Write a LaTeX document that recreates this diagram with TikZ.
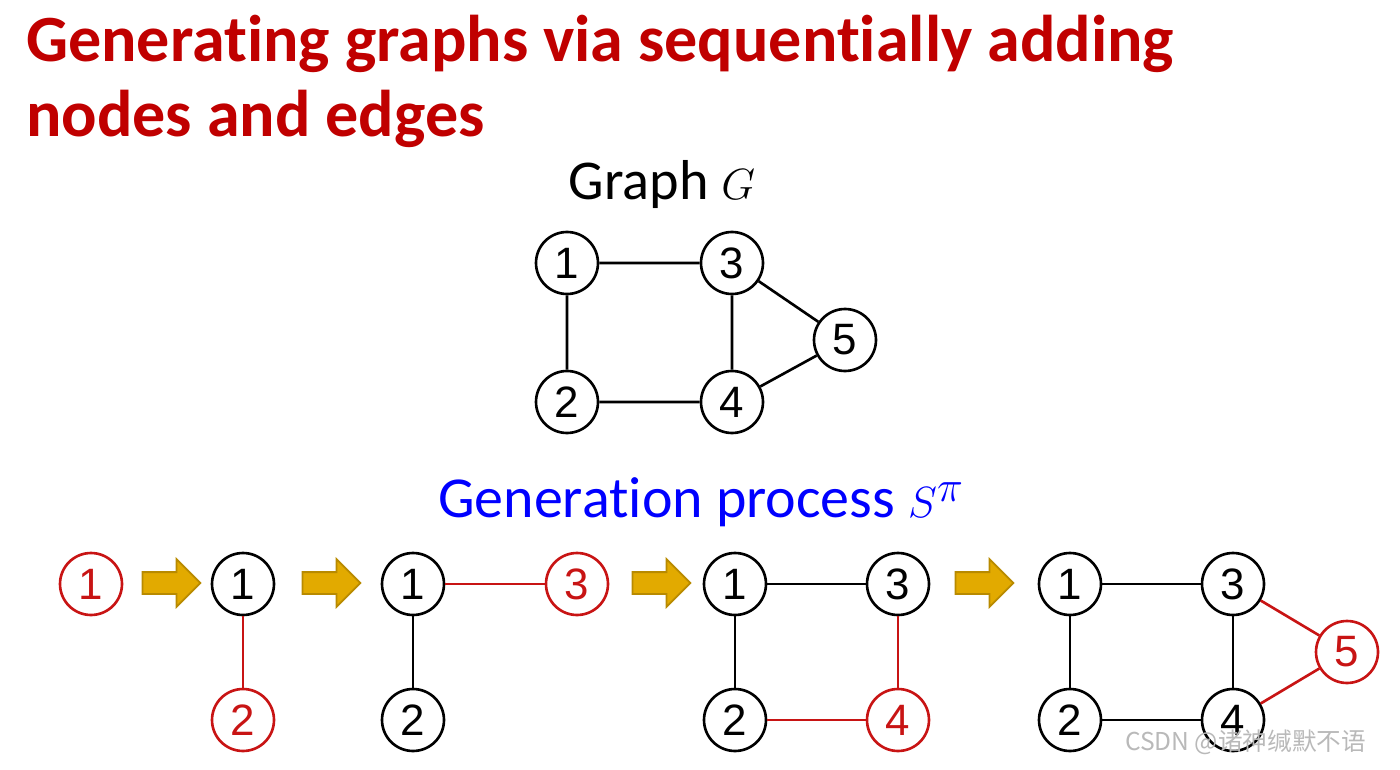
\documentclass[tikz,border=0pt]{standalone}
\usepackage{fontspec}
\setmainfont{Carlito}[Ligatures=NoCommon]
\newfontfamily\digitfont{Liberation Sans}
\newfontfamily\cjkfont{Noto Sans CJK SC}
\usetikzlibrary{shapes.arrows,positioning}
\definecolor{titlered}{RGB}{192,0,0}
\definecolor{stepred}{RGB}{200,20,20}
\definecolor{procblue}{RGB}{0,0,255}
\definecolor{arrowgold}{RGB}{226,170,0}
\definecolor{arrowedge}{RGB}{184,138,0}
\definecolor{markgray}{RGB}{185,185,185}

\begin{document}
\begin{tikzpicture}[x=0.02cm, y=-0.02cm,
    vtx/.style={circle, draw, line width=1.5pt, minimum size=1.24cm, inner sep=0pt,
                font=\digitfont\fontsize{25}{25}\selectfont},
    newvtx/.style={vtx, draw=stepred, text=stepred},
    edge/.style={line width=1.5pt},
    newedge/.style={edge, draw=stepred},
    goarrow/.style={single arrow, draw=arrowedge, fill=arrowgold, line width=1pt,
                    minimum height=1.16cm, inner sep=0pt, inner ysep=0.2cm,
                    single arrow head extend=0.26cm}
  ]
  \useasboundingbox (0,0) rectangle (1400,770);

  % title
  \node[anchor=base west, text=titlered, font=\fontsize{37.6}{37.6}\selectfont\bfseries]
        (title) at (20,62) {Generating graphs via sequentially adding};
  \node[anchor=base west, text=titlered, font=\fontsize{37.6}{37.6}\selectfont\bfseries]
        (title2) at (20,137) {nodes and edges};

  % graph G
  \node[anchor=base, font=\fontsize{32}{32}\selectfont] (glabel) at (662,200) {Graph $G$};
  \node[vtx] (g1) at (567,263) {1};
  \node[vtx] (g3) at (732,263) {3};
  \node[vtx] (g2) at (567,402) {2};
  \node[vtx] (g4) at (732,402) {4};
  \node[vtx] (g5) at (845,340) {5};
  \draw[edge] (g1) -- (g3) (g1) -- (g2) (g2) -- (g4) (g3) -- (g4)
              (g3) -- (g5) (g4) -- (g5);

  \node[anchor=base, text=procblue, font=\fontsize{33}{33}\selectfont] (proc) at (701,517)
        {Generation process $S^{\pi}$};

  % step 1
  \node[newvtx] (a1) at (91,584) {1};
  \node[goarrow] (ar1) at (166,583) {};

  % step 2
  \node[vtx] (b1) at (243,584) {1};
  \node[newvtx] (b2) at (243,720) {2};
  \draw[newedge] (b1) -- (b2);
  \node[goarrow] (ar2) at (326,583) {};

  % step 3
  \node[vtx] (c1) at (413,584) {1};
  \node[vtx] (c2) at (413,720) {2};
  \node[newvtx] (c3) at (577,584) {3};
  \draw[edge] (c1) -- (c2);
  \draw[newedge] (c1) -- (c3);
  \node[goarrow] (ar3) at (656,583) {};

  % step 4
  \node[vtx] (d1) at (735,584) {1};
  \node[vtx] (d3) at (898,584) {3};
  \node[vtx] (d2) at (735,720) {2};
  \node[newvtx] (d4) at (898,720) {4};
  \draw[edge] (d1) -- (d3) (d1) -- (d2);
  \draw[newedge] (d3) -- (d4) (d2) -- (d4);
  \node[goarrow] (ar4) at (979,583) {};

  % step 5
  \node[vtx] (e1) at (1070,584) {1};
  \node[vtx] (e3) at (1233,584) {3};
  \node[vtx] (e2) at (1070,720) {2};
  \node[vtx] (e4) at (1233,720) {4};
  \node[newvtx] (e5) at (1347,652) {5};
  \draw[edge] (e1) -- (e3) (e1) -- (e2) (e2) -- (e4) (e3) -- (e4);
  \draw[newedge] (e3) -- (e5) (e4) -- (e5);

  \node[anchor=base east, text=markgray, font=\cjkfont\fontsize{14}{14}\selectfont]
        (mark) at (1372,750) {CSDN @诸神缄默不语};
\end{tikzpicture}
\end{document}
